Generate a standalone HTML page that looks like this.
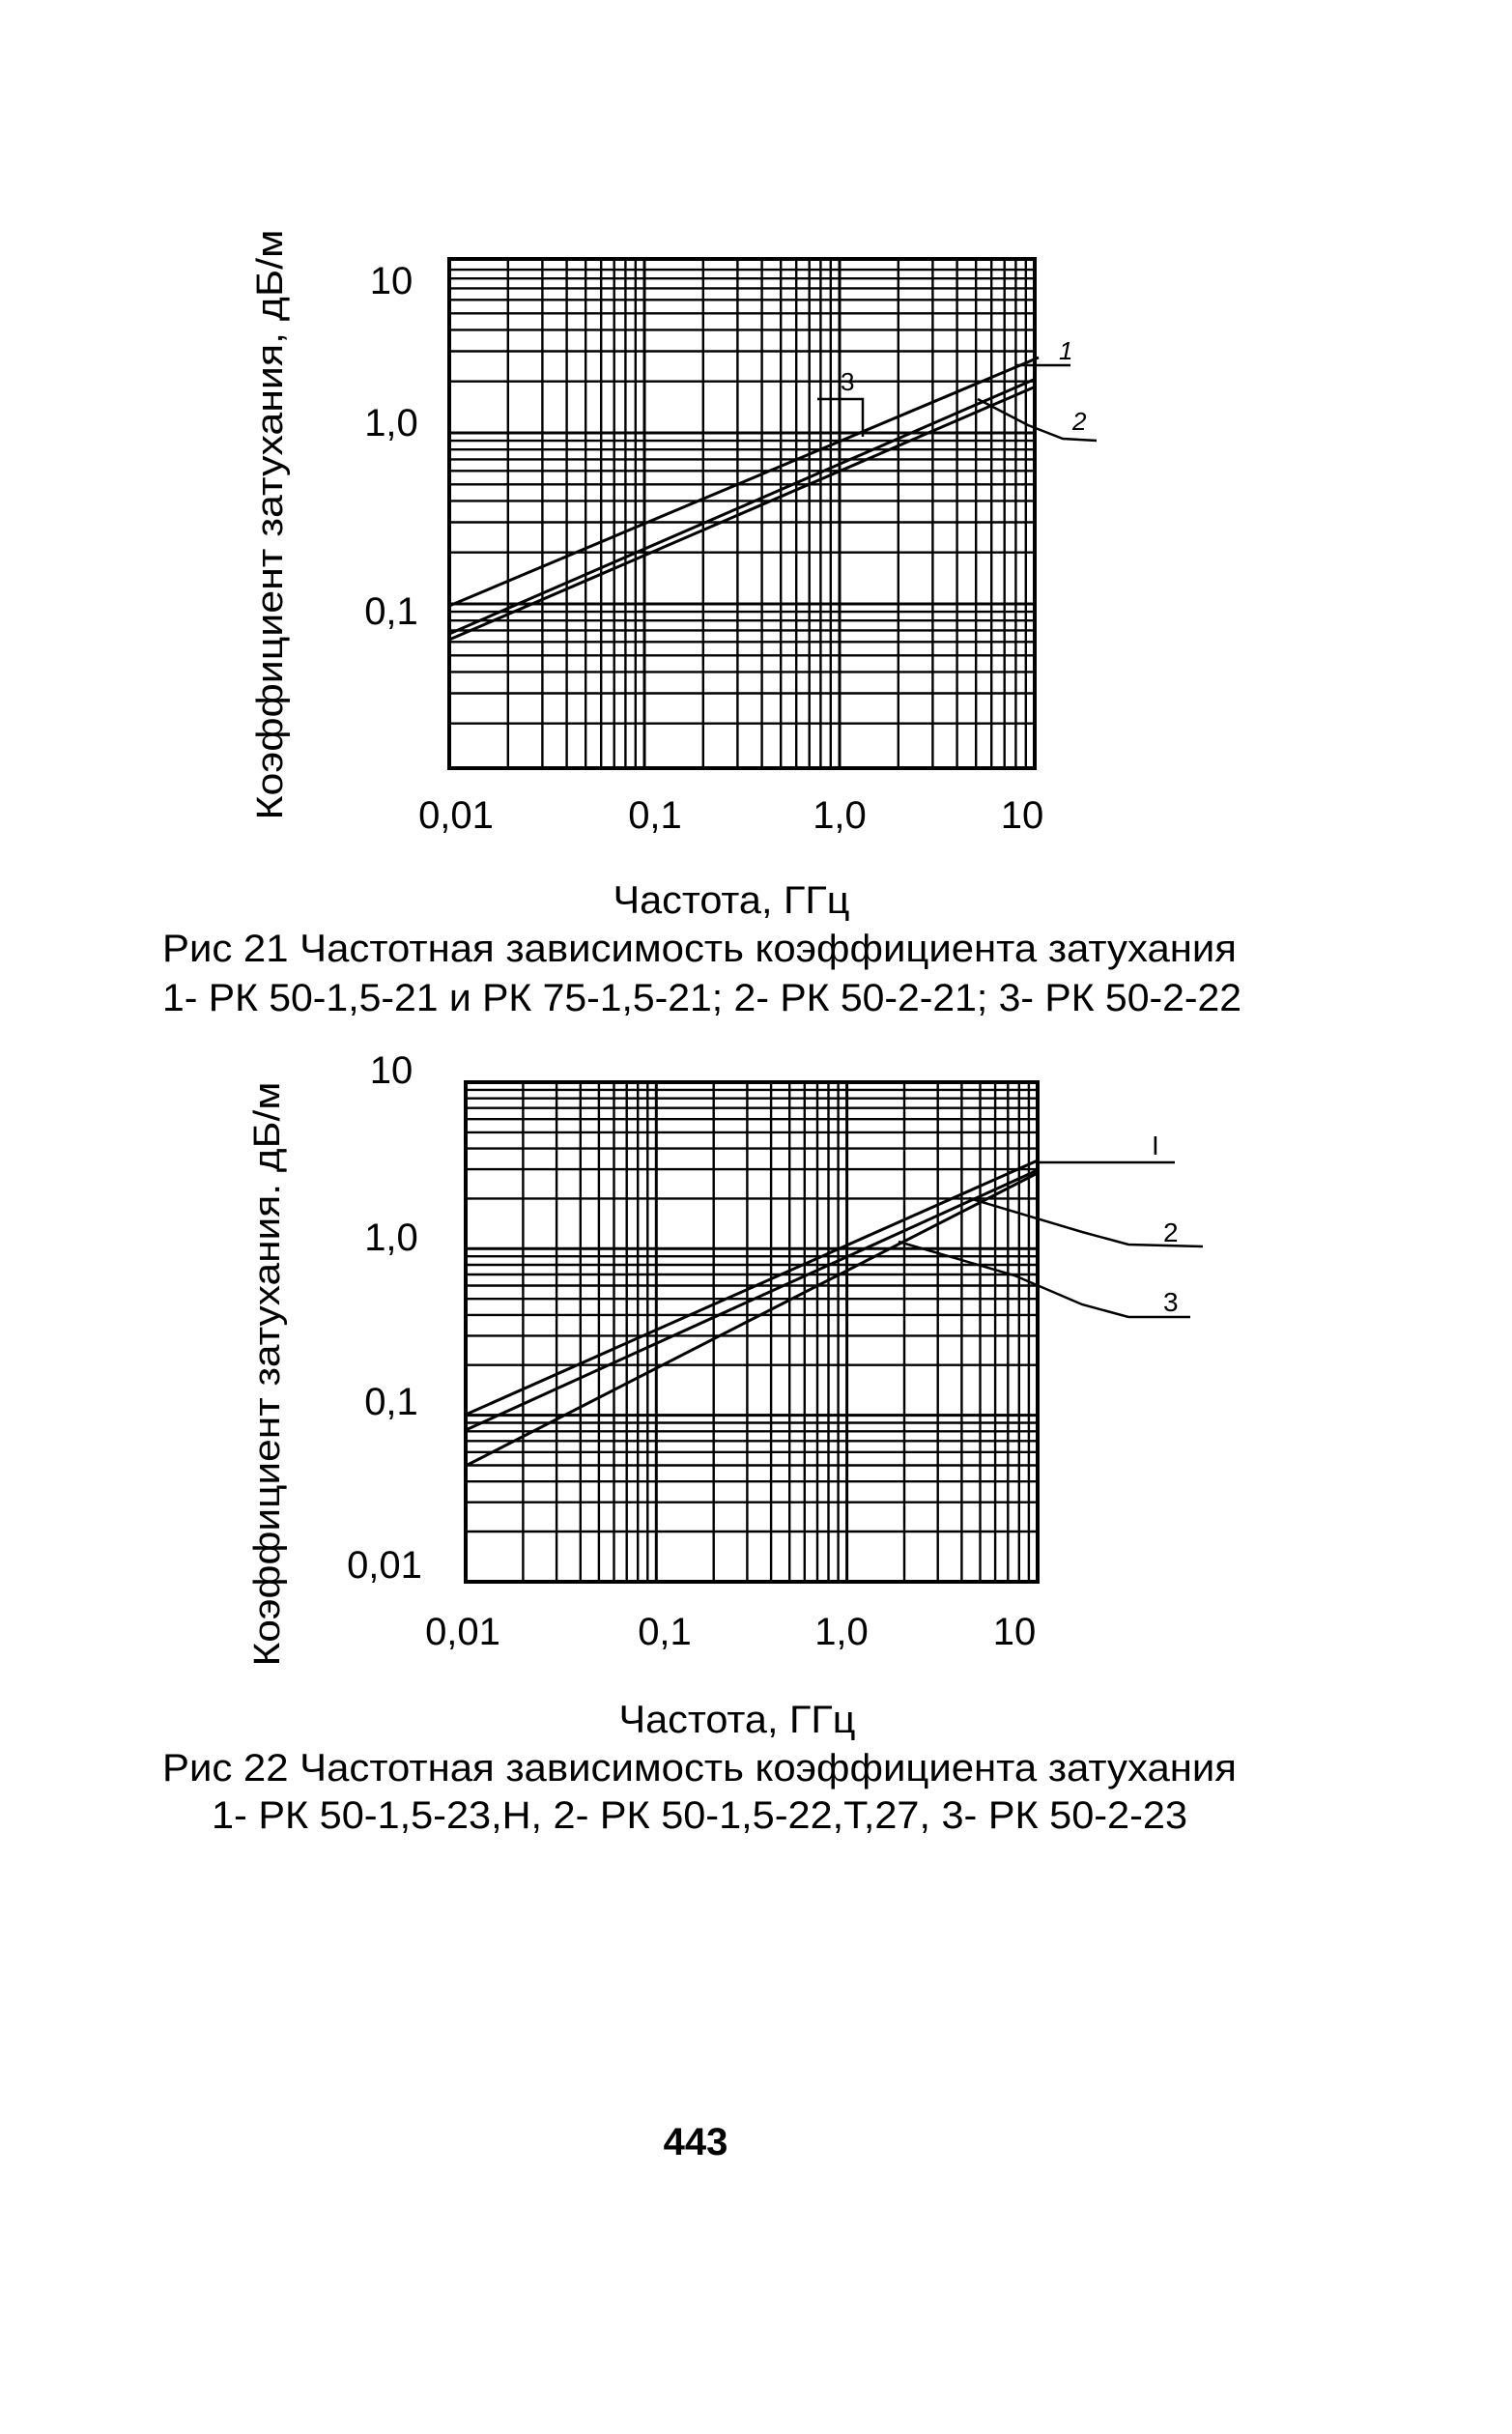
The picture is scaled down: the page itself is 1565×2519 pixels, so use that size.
<!DOCTYPE html>
<html><head><meta charset="utf-8">
<style>
html,body{margin:0;padding:0;background:#fff;}
svg text{font-family:"Liberation Sans",sans-serif;fill:#000;}
</style></head>
<body>
<svg id="s" xmlns="http://www.w3.org/2000/svg" width="1565" height="2514" viewBox="0 0 1565 2514">
<rect width="1565" height="2514" fill="#fff"/>
<g id="g1" stroke="#000" fill="none"></g>
<g id="g2" stroke="#000" fill="none"></g>

<!-- chart 1 labels -->
<text x="405" y="304" font-size="40" text-anchor="middle">10</text>
<text x="405" y="451" font-size="40" text-anchor="middle">1,0</text>
<text x="405" y="646" font-size="40" text-anchor="middle">0,1</text>
<text x="472" y="857" font-size="40" text-anchor="middle">0,01</text>
<text x="678" y="857" font-size="40" text-anchor="middle">0,1</text>
<text x="869" y="857" font-size="40" text-anchor="middle">1,0</text>
<text x="1058" y="857" font-size="40" text-anchor="middle">10</text>
<text transform="translate(292,543) rotate(-90)" font-size="38" text-anchor="middle" textLength="611" lengthAdjust="spacingAndGlyphs">Коэффициент затухания, дБ/м</text>
<text x="757" y="945" font-size="40" text-anchor="middle" textLength="245" lengthAdjust="spacingAndGlyphs">Частота, ГГц</text>
<text x="168" y="995" font-size="40" textLength="1112" lengthAdjust="spacingAndGlyphs">Рис 21  Частотная зависимость коэффициента затухания</text>
<text x="168" y="1046" font-size="40" textLength="1117" lengthAdjust="spacingAndGlyphs">1- РК 50-1,5-21 и РК 75-1,5-21; 2- РК 50-2-21; 3- РК 50-2-22</text>
<text x="1096" y="372" font-size="26" font-style="italic">1</text>
<text x="1110" y="445" font-size="26" font-style="italic">2</text>
<text x="870" y="404" font-size="26">3</text>

<!-- chart 2 labels -->
<text x="405" y="1121" font-size="40" text-anchor="middle">10</text>
<text x="405" y="1294" font-size="40" text-anchor="middle">1,0</text>
<text x="405" y="1464" font-size="40" text-anchor="middle">0,1</text>
<text x="398" y="1633" font-size="40" text-anchor="middle">0,01</text>
<text x="479" y="1702" font-size="40" text-anchor="middle">0,01</text>
<text x="688" y="1702" font-size="40" text-anchor="middle">0,1</text>
<text x="871" y="1702" font-size="40" text-anchor="middle">1,0</text>
<text x="1050" y="1702" font-size="40" text-anchor="middle">10</text>
<text transform="translate(289,1422) rotate(-90)" font-size="38" text-anchor="middle" textLength="605" lengthAdjust="spacingAndGlyphs">Коэффициент затухания. дБ/м</text>
<text x="763" y="1793" font-size="40" text-anchor="middle" textLength="245" lengthAdjust="spacingAndGlyphs">Частота, ГГц</text>
<text x="168" y="1843" font-size="40" textLength="1112" lengthAdjust="spacingAndGlyphs">Рис 22  Частотная зависимость коэффициента затухания</text>
<text x="219" y="1892" font-size="40" textLength="1010" lengthAdjust="spacingAndGlyphs">1- РК 50-1,5-23,Н, 2- РК 50-1,5-22,Т,27, 3- РК 50-2-23</text>
<text x="1192" y="1195" font-size="28" font-family="Liberation Serif">I</text>
<text x="1204" y="1285" font-size="28">2</text>
<text x="1204" y="1357" font-size="28">3</text>

<text x="720" y="2230" font-size="40" font-weight="bold" text-anchor="middle">443</text>

<!-- curves & leaders -->
<g stroke="#000" fill="none" stroke-width="3">
<line x1="465" y1="627" x2="1075" y2="370"/>
<line x1="465" y1="656" x2="1072" y2="392"/>
<line x1="465" y1="662" x2="1072" y2="400"/>
<polyline points="1052,378 1108,378" stroke-width="2.5"/>
<polyline points="1012,413 1064,440 1100,454 1135,456" stroke-width="2.5"/>
<polyline points="846,413 893,413 893,452" stroke-width="2.5"/>

<line x1="482" y1="1464" x2="1074" y2="1201"/>
<line x1="482" y1="1480" x2="1074" y2="1211"/>
<line x1="482" y1="1517" x2="1074" y2="1214"/>
<polyline points="1074,1203 1216,1203" stroke-width="2.5"/>
<polyline points="1003,1240 1120,1275 1168,1288 1245,1290" stroke-width="2.5"/>
<polyline points="930,1285 1050,1320 1120,1350 1168,1363 1232,1363" stroke-width="2.5"/>
</g>
</svg>
<script>
function grid(id,x0,x1,y0,y1,dx,yfun,vmin,vmax){
  var g=document.getElementById(id),h='';
  for(var d=0;d<3;d++)for(var k=1;k<=9;k++){
    var x=x0+dx*(d+Math.log10(k));
    if(x>x1+1)continue;
    h+='<line x1="'+x.toFixed(1)+'" y1="'+y0+'" x2="'+x.toFixed(1)+'" y2="'+y1+'" stroke-width="'+(k==1?3:2.4)+'"/>';
  }
  [0.01,0.1,1].forEach(function(b){for(var k=1;k<=9;k++){var v=b*k;if(v<vmin||v>vmax)continue;var y=yfun(v);if(y<y0||y>y1)continue;
    h+='<line x1="'+x0+'" y1="'+y.toFixed(1)+'" x2="'+x1+'" y2="'+y.toFixed(1)+'" stroke-width="'+(k==1?3:2.4)+'"/>';}});
  h+='<rect x="'+x0+'" y="'+y0+'" width="'+(x1-x0)+'" height="'+(y1-y0)+'" stroke-width="4"/>';
  g.innerHTML=h;
}
grid('g1',465,1071,268,795,202,function(v){return 271-177*(Math.log10(v)-1);},0.011,10);
grid('g2',482,1074,1120,1637,197.3,function(v){return 1120+172.3*(1-Math.log10(v));},0.01,10);
</script>
</body></html>
